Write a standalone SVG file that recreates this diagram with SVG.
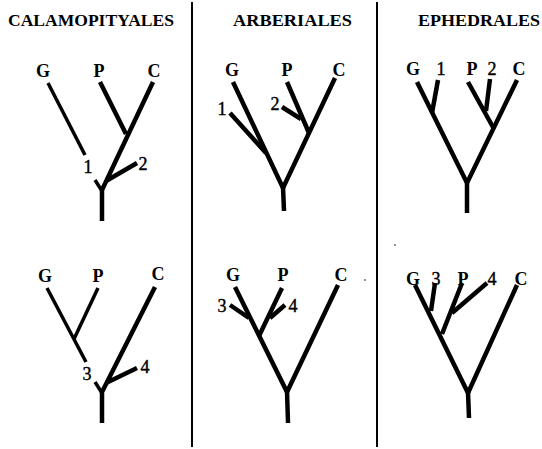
<svg xmlns="http://www.w3.org/2000/svg" width="542" height="449" viewBox="0 0 542 449">
  <style>
    .title { font-family: "Liberation Serif", "Times New Roman", serif; font-size: 16.5px; font-weight: bold; fill: #000; }
    .lbl { font-family: "Liberation Serif", "Times New Roman", serif; font-size: 18px; fill: #000; text-anchor: middle; font-weight: bold; }
    .num { font-family: "Liberation Serif", "Times New Roman", serif; font-size: 18px; fill: #000; stroke: #000; stroke-width: 0.4; text-anchor: middle; }
    .br { stroke: #000; stroke-width: 4.5; fill: none; stroke-linecap: butt; stroke-linejoin: miter; }
    .thin { stroke: #000; stroke-width: 3.5; fill: none; }
    .div { stroke: #000; stroke-width: 2; }
  </style>
  <rect width="542" height="449" fill="#fff"/>

  <!-- column dividers -->
  <g id="dividers">
    <line class="div" x1="192" y1="2" x2="192" y2="447"/>
    <line class="div" x1="377" y1="2" x2="377" y2="447"/>
  </g>

  <!-- column titles -->
  <g id="titles">
    <text class="title" x="8" y="26" textLength="166" lengthAdjust="spacingAndGlyphs">CALAMOPITYALES</text>
    <text class="title" x="233" y="26" textLength="119" lengthAdjust="spacingAndGlyphs">ARBERIALES</text>
    <text class="title" x="418" y="26" textLength="122" lengthAdjust="spacingAndGlyphs">EPHEDRALES</text>
  </g>

  <!-- Calamopityales, upper tree -->
  <g id="tree-cal-1">
    <text class="lbl" x="43" y="77">G</text>
    <text class="lbl" x="99" y="77">P</text>
    <text class="lbl" x="154" y="77">C</text>
    <text class="num" x="88" y="173">1</text>
    <text class="num" x="143" y="170">2</text>
    <path class="thin" d="M48 83 L85 155"/>
    <path class="thin" d="M95 180 L102 191"/>
    <path class="br" d="M102 221 L102 190 L153 82"/>
    <path class="br" d="M100 82 L126 134"/>
    <path class="br" d="M106 181 L137 163"/>
  </g>

  <!-- Arberiales, upper tree -->
  <g id="tree-arb-1">
    <text class="lbl" x="232" y="76">G</text>
    <text class="lbl" x="287" y="76">P</text>
    <text class="lbl" x="339" y="76">C</text>
    <text class="num" x="222" y="115">1</text>
    <text class="num" x="275" y="110">2</text>
    <path class="br" d="M233 82 L283 188 L335 78"/>
    <path class="br" d="M283 187 L284 211"/>
    <path class="br" d="M230 113 L266 153"/>
    <path class="br" d="M287 82 L309 133"/>
    <path class="br" d="M282 107 L301 119"/>
  </g>

  <!-- Ephedrales, upper tree -->
  <g id="tree-eph-1">
    <text class="lbl" x="413" y="75">G</text>
    <text class="num" x="441" y="75">1</text>
    <text class="lbl" x="472" y="75">P</text>
    <text class="num" x="492" y="75">2</text>
    <text class="lbl" x="519" y="75">C</text>
    <path class="br" d="M417 82 L467 183 L517 80"/>
    <path class="br" d="M467 182 L467 213"/>
    <path class="br" d="M438 80 L432 113"/>
    <path class="br" d="M468 82 L494 129"/>
    <path class="br" d="M490 79 L486 111"/>
  </g>

  <!-- Calamopityales, lower tree -->
  <g id="tree-cal-2">
    <text class="lbl" x="45" y="282">G</text>
    <text class="lbl" x="98" y="282">P</text>
    <text class="lbl" x="158" y="280">C</text>
    <text class="num" x="87" y="380">3</text>
    <text class="num" x="145" y="373">4</text>
    <path class="thin" d="M47 288 L86 362"/>
    <path class="thin" d="M98 288 L74 339"/>
    <path class="thin" d="M95 382 L102 393"/>
    <path class="br" d="M102 423 L102 392 L155 287"/>
    <path class="br" d="M106 383 L137 368"/>
  </g>

  <!-- Arberiales, lower tree -->
  <g id="tree-arb-2">
    <text class="lbl" x="233" y="281">G</text>
    <text class="lbl" x="283" y="281">P</text>
    <text class="lbl" x="341" y="281">C</text>
    <text class="num" x="222" y="312">3</text>
    <text class="num" x="293" y="312">4</text>
    <path class="br" d="M235 287 L287 392 L338 285"/>
    <path class="br" d="M287 391 L288 423"/>
    <path class="br" d="M230 305 L249 318"/>
    <path class="br" d="M282 288 L259 336"/>
    <path class="br" d="M285 305 L270 318"/>
  </g>

  <!-- Ephedrales, lower tree -->
  <g id="tree-eph-2">
    <text class="lbl" x="413" y="285">G</text>
    <text class="num" x="436" y="285">3</text>
    <text class="lbl" x="463" y="285">P</text>
    <text class="num" x="492" y="285">4</text>
    <text class="lbl" x="521" y="285">C</text>
    <path class="br" d="M415 285 L468 393 L517 285"/>
    <path class="br" d="M468 392 L469 418"/>
    <path class="br" d="M435 283 L431 311"/>
    <path class="br" d="M462 283 L442 334"/>
    <path class="br" d="M487 283 L452 313"/>
  </g>

  <!-- stray print specks -->
  <g id="specks" fill="#000">
    <circle cx="365" cy="280" r="0.8"/>
    <circle cx="395" cy="245" r="0.8"/>
  </g>
</svg>
